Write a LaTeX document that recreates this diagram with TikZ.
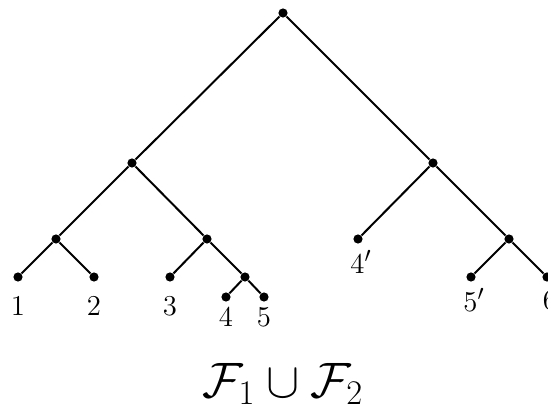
\documentclass[tikz,border=0pt]{standalone}
\usetikzlibrary{positioning}
\tikzset{
    point/.style = {circle, fill, inner sep=0pt, minimum size=4.6pt},
    leaf/.style = {inner sep=0pt, font=\fontsize{15}{17}\selectfont},
    branch/.style = {line width=1pt}
}
\begin{document}
\begin{tikzpicture}[x=0.5pt,y=-0.5pt]
    \useasboundingbox (0,0) rectangle (548,412);

    % inner vertices
    \node[point] (r) at (283,13) {};
    \node[point] (a) at (132,163) {};
    \node[point] (b) at (433,163) {};
    \node[point] (a1) at (56,239) {};
    \node[point] (a2) at (207,239) {};
    \node[point] (a22) at (245,277) {};
    \node[point] (b2) at (509,239) {};

    % leaves
    \node[point] (l1) at (18,277) {};
    \node[point] (l2) at (94,277) {};
    \node[point] (l3) at (170,277) {};
    \node[point] (l4) at (226,297) {};
    \node[point] (l5) at (264,297) {};
    \node[point] (m4) at (358,239) {};
    \node[point] (m5) at (471,277) {};
    \node[point] (m6) at (547,277) {};

    % leaf labels
    \node[leaf] (t1) at (18,306) {$1$};
    \node[leaf] (t2) at (94,306) {$2$};
    \node[leaf] (t3) at (170,306) {$3$};
    \node[leaf] (t4) at (226,317) {$4$};
    \node[leaf] (t5) at (264,317) {$5$};
    \node[leaf] (s4) at (361,262) {$4'$};
    \node[leaf] (s5) at (474,300) {$5'$};
    \node[leaf] (s6) at (550,300) {$6$};

    % edges
    \draw[branch] (a) -- (r) -- (b);
    \draw[branch] (a1) -- (a) -- (a2);
    \draw[branch] (l1) -- (a1) -- (l2);
    \draw[branch] (l3) -- (a2) -- (a22);
    \draw[branch] (l4) -- (a22) -- (l5);
    \draw[branch] (m4) -- (b) -- (b2);
    \draw[branch] (m5) -- (b2) -- (m6);

    % caption
    \node[font=\fontsize{23}{27}\selectfont] (cap) at (283,384) {$\mathcal{F}_1 \cup \mathcal{F}_2$};
\end{tikzpicture}
\end{document}
